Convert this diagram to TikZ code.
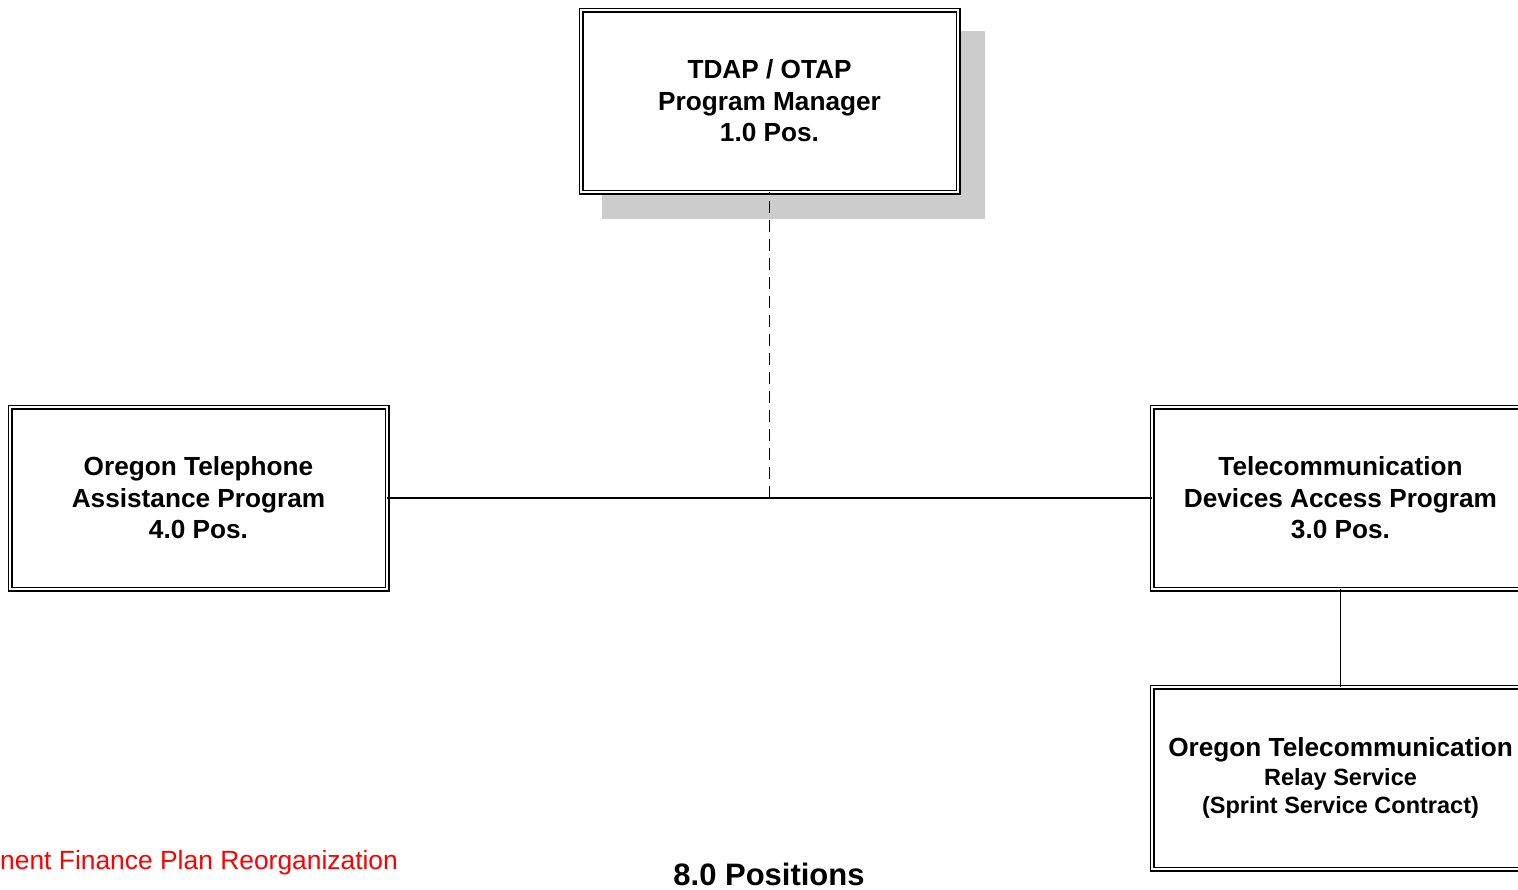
\documentclass[tikz,border=0pt]{standalone}
\usepackage{fontspec}
\setmainfont{Liberation Sans}
\begin{document}
\begin{tikzpicture}[x=1pt,y=-1pt,
  orgbox/.style={draw=black, fill=white, line width=1.5pt, double=white, double distance=2pt,
    minimum width=377pt, minimum height=182pt, inner sep=0pt, outer sep=0pt,
    align=center, font=\bfseries\fontsize{26.2}{31.5}\selectfont},
  conn/.style={line width=1.6pt, draw=black},
  shadowbox/.style={fill=black!20, draw=none}]
\useasboundingbox (0,0) rectangle (1518,889);
\clip (0,0) rectangle (1518,889);
\fill[shadowbox] (602,31) rectangle (985,219);
\node[orgbox] (top) at (769.5,101) {TDAP / OTAP\\Program Manager\\1.0 Pos.};
\node[orgbox] (left) at (198.5,498) {Oregon Telephone\\Assistance Program\\4.0 Pos.};
\node[orgbox] (right) at (1340.5,498) {Telecommunication\\Devices Access Program\\3.0 Pos.};
\node[orgbox] (relay) at (1340.5,778) {Oregon Telecommunication\\[-2pt]{\fontsize{23.5}{28}\selectfont Relay Service}\\[-3.5pt]{\fontsize{23.5}{28}\selectfont (Sprint Service Contract)}};
\coordinate (junction) at (top.south |- left.east);
\draw[conn] (left.east) -- (right.west);
\draw[conn, dash pattern=on 12pt off 7pt] (junction) -- (top.south);
\draw[conn] (right.south) -- (relay.north);
\node[anchor=base west, inner sep=0pt, text=red, font=\fontsize{26.4}{31}\selectfont] (note) at (0,869) {nent Finance Plan Reorganization};
\node[anchor=base, inner sep=0pt, font=\bfseries\fontsize{31}{36}\selectfont] (total) at (769,885) {8.0 Positions};
\end{tikzpicture}
\end{document}
